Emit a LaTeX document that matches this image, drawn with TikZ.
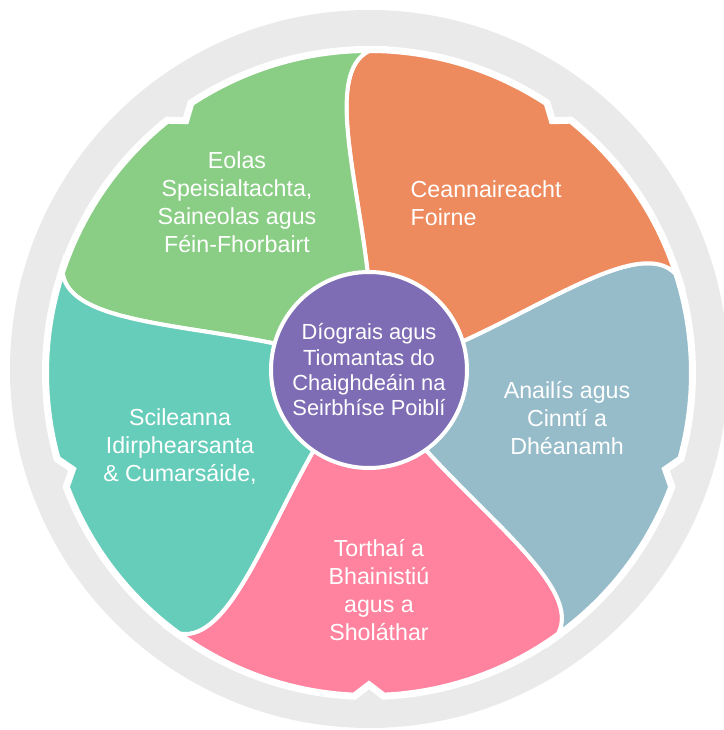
\documentclass[tikz,border=0pt]{standalone}
\usepackage{fontspec}
\setmainfont{Liberation Sans}
\definecolor{ringgray}{HTML}{EAEAEA}
\definecolor{leafgreen}{HTML}{8ACE85}
\definecolor{leaforange}{HTML}{EE8B5E}
\definecolor{leafblue}{HTML}{96BCCA}
\definecolor{leafpink}{HTML}{FF839E}
\definecolor{leafteal}{HTML}{66CDBA}
\definecolor{corepurple}{HTML}{7E6DB4}
\newcommand\leafpath[1]{(0,0) -- ([rotate=#1-36]88,0)
    .. controls ([rotate=#1-36]190,10) and ([rotate=#1-36]300,45) .. (#1-36:322)
    arc[start angle=#1-36,end angle=#1-2.7,radius=322] -- (#1:310) -- (#1+2.7:322)
    arc[start angle=#1+2.7,end angle=#1+36,radius=322]
    .. controls ([rotate=#1+36]300,45) and ([rotate=#1+36]190,10) .. ([rotate=#1+36]88,0) -- cycle}

\begin{document}
\begin{tikzpicture}[x=0.75pt,y=0.75pt,
        leafgap/.style={fill=white,draw=white,line width=7.5pt,line join=miter},
        leaf/.style={draw=white,line width=3pt,line join=miter},
        leaftext/.style={text=white,align=center,font=\fontsize{17.4}{21}\selectfont},
        coretext/.style={text=white,align=center,font=\fontsize{16.4}{19}\selectfont}]
    \useasboundingbox (-369,-359) rectangle (354,371);
    \fill[ringgray] (0,2) circle[radius=359];
    \begin{scope}[shift={(0,-2)}]
        \foreach \a in {-90,-18,54,126,198}{
            \path[leafgap] \leafpath{\a};
        }
        \foreach \a/\c in {-90/leafpink,-18/leafblue,54/leaforange,126/leafgreen,198/leafteal}{
            \path[leaf,fill=\c] \leafpath{\a};
        }
    \end{scope}
    \node[circle,fill=corepurple,draw=white,line width=3pt,minimum size=147pt,inner sep=0pt,coretext] (core) at (0,1)
        {D\'iograis agus\\Tiomantas do\\Chaighde\'ain na\\Seirbh\'ise Poibl\'i};
    \node[leaftext] (eolas) at (-132,169) {Eolas\\Speisialtachta,\\Saineolas agus\\F\'ein-Fhorbairt};
    \node[leaftext,align=left,anchor=west] (ceannas) at (37,168) {Ceannaireacht\\Foirne};
    \node[leaftext] (anailis) at (198,-47) {Anail\'is agus\\Cinnt\'i a\\Dh\'eanamh};
    \node[leaftext] (torthai) at (10,-219) {Tortha\'i a\\Bhainisti\'u\\agus a\\Shol\'athar};
    \node[leaftext] (scileanna) at (-189,-76) {Scileanna\\Idirphearsanta\\\& Cumars\'aide,};
\end{tikzpicture}
\end{document}
